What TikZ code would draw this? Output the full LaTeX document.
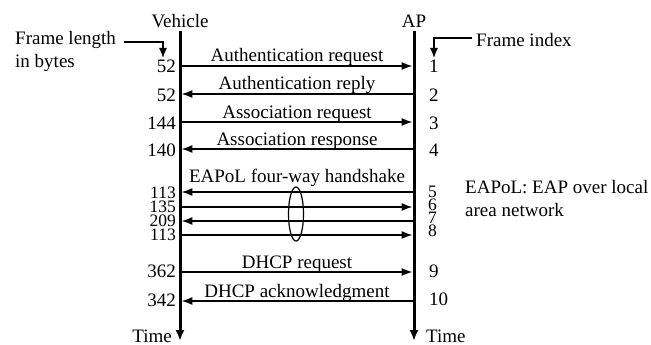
\documentclass[tikz,border=0pt]{standalone}
\usepackage{fontspec}
\setmainfont{Liberation Serif}
\usetikzlibrary{arrows.meta,shapes.geometric}
\begin{document}
\begin{tikzpicture}[x=1pt,y=-1pt,
  txt/.style={inner sep=0pt,font=\fontsize{19}{22}\selectfont},
  small/.style={font=\fontsize{17.5}{18}\selectfont},
  life/.style={line width=3pt,-{Latex[length=11pt,width=9pt]}},
  msg/.style={line width=1.8pt,-{Latex[length=11pt,width=8pt]},shorten >=1.3pt},
  pointer/.style={line width=1.2pt,-{Latex[length=10pt,width=8pt]}},
  lbl/.style={txt,anchor=base,yshift=4pt},
  lnum/.style={txt,anchor=base east},
  rnum/.style={txt,anchor=base west}]
\useasboundingbox (0,0) rectangle (651,345);
% lifelines
\coordinate (vt) at (180,31); \coordinate (vb) at (180,341);
\coordinate (at) at (414,31); \coordinate (ab) at (414,341);
\draw[life] (vt) -- (vb);
\draw[life] (at) -- (ab);
\node[txt,anchor=base] (veh) at (180,28) {Vehicle};
\node[txt,anchor=base] (ap) at (414,28) {AP};
\node[txt,anchor=base east] (tl) at (172,342) {Time};
\node[txt,anchor=base west] (tr) at (426,342) {Time};
% message rows
\foreach \i/\y in {1/66,2/94,3/122,4/149,5/192,6/207,7/221,8/235,9/272,10/301}{
  \coordinate (v\i) at (180,\y); \coordinate (a\i) at (414,\y);
}
\draw[msg] (v1) -- (a1) node[midway,lbl] (m1) {Authentication request};
\draw[msg] (a2) -- (v2) node[midway,lbl] (m2) {Authentication reply};
\draw[msg] (v3) -- (a3) node[midway,lbl] (m3) {Association request};
\draw[msg] (a4) -- (v4) node[midway,lbl] (m4) {Association response};
\draw[msg] (a5) -- (v5) node[midway,lbl,yshift=6pt] (m5) {EAPoL four-way handshake};
\draw[msg] (v6) -- (a6);
\draw[msg] (a7) -- (v7);
\draw[msg] (v8) -- (a8);
\draw[msg] (v9) -- (a9) node[midway,lbl] (m9) {DHCP request};
\draw[msg] (a10) -- (v10) node[midway,lbl] (m10) {DHCP acknowledgment};
\node[draw,line width=1.2pt,ellipse,minimum width=15pt,minimum height=54pt,inner sep=0pt] (ell) at (296,214) {};
% left numbers (frame length)
\foreach \i/\y/\t in {1/73/52,2/101/52,3/129/144,4/156/140,9/277/362,10/306/342}{
  \node[lnum] (l\i) at (176,\y) {\t};
}
\foreach \i/\y/\t in {5/198/113,6/212/135,7/226/209,8/240/113}{
  \node[lnum,small] (l\i) at (176,\y) {\t};
}
% right numbers (frame index)
\foreach \i/\y/\t in {1/73/1,2/101/2,3/129/3,4/156/4,9/277/9,10/305/10}{
  \node[rnum] (r\i) at (429,\y) {\t};
}
\foreach \i/\y/\t in {5/197/5,6/210/6,7/223/7,8/236/8}{
  \node[rnum,small] (r\i) at (428,\y) {\t};
}
% annotations
\node[txt,anchor=base west] (fl1) at (15,45) {Frame length};
\node[txt,anchor=base west] (fl2) at (15,67) {in bytes};
\coordinate (p1) at (124,42); \coordinate (p2) at (163,42); \coordinate (p3) at (163,58);
\draw[pointer] (p1) -- (p2) -- (p3);
\node[txt,anchor=base west] (fi) at (476,47) {Frame index};
\coordinate (q1) at (472,38); \coordinate (q2) at (434,38); \coordinate (q3) at (434,58);
\draw[pointer] (q1) -- (q2) -- (q3);
\node[txt,anchor=base west] (e1) at (465,193) {EAPoL: EAP over local};
\node[txt,anchor=base west] (e2) at (465,216) {area network};
\end{tikzpicture}
\end{document}
